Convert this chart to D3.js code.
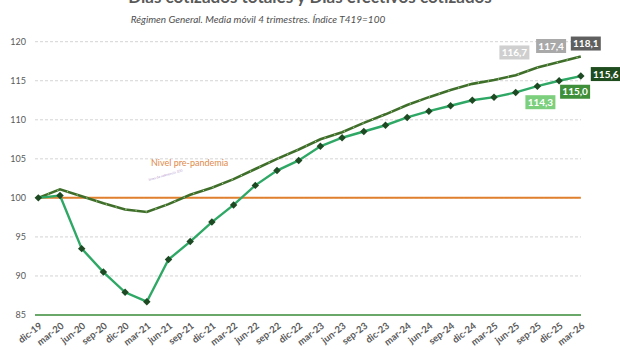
<!DOCTYPE html>
<html>
<head>
<meta charset="utf-8">
<script src="https://cdn.jsdelivr.net/npm/d3@7"></script>
<style>
  body { margin: 0; background: #fff; }
  svg { display: block; font-family: Lato, "Open Sans", sans-serif; }
  .tick text { fill: #595959; }
</style>
</head>
<body>
<svg id="chart"></svg>
<script>
// quarters (x categories)
const quarters = ['dic-19','mar-20','jun-20','sep-20','dic-20','mar-21','jun-21','sep-21','dic-21',
  'mar-22','jun-22','sep-22','dic-22','mar-23','jun-23','sep-23','dic-23','mar-24','jun-24',
  'sep-24','dic-24','mar-25','jun-25','sep-25','dic-25','mar-26'];

// Días cotizados totales (index T419=100)
const totales = [100, 101.1, 100.2, 99.3, 98.5, 98.2, 99.2, 100.4, 101.3, 102.4, 103.7, 105.0,
  106.2, 107.5, 108.4, 109.6, 110.7, 111.9, 112.9, 113.8, 114.6, 115.1, 115.7, 116.7, 117.4, 118.1];

// Días efectivos cotizados
const efectivos = [100, 100.3, 93.5, 90.5, 87.9, 86.7, 92.1, 94.4, 96.9, 99.1, 101.6, 103.5,
  104.8, 106.6, 107.7, 108.5, 109.3, 110.3, 111.1, 111.8, 112.5, 112.9, 113.5, 114.3, 115.0, 115.6];

const yTicks = [85, 90, 95, 100, 105, 110, 115, 120];
const preLevel = 100;

// value boxes at the end of the series
const totLabels = [
  { i: 23, v: '116,7', fill: '#cfcfcf', dx: -23, dy: -15 },
  { i: 24, v: '117,4', fill: '#a9a9a9', dx: -8, dy: -16 },
  { i: 25, v: '118,1', fill: '#5f5f5f', dx: 5, dy: -13 }
];
const efeLabels = [
  { i: 23, v: '114,3', fill: '#7ccf7c', dx: 3, dy: 16 },
  { i: 24, v: '115,0', fill: '#3f8f3a', dx: 16, dy: 11 },
  { i: 25, v: '115,6', fill: '#1f4d1f', dx: 25, dy: -2 }
];

const W = 620, H = 350;
const svg = d3.select('#chart').attr('width', W).attr('height', H);

const x = d3.scalePoint().domain(quarters).range([38.3, 580.8]);
const y = d3.scaleLinear().domain([85, 120]).range([315, 41.7]);

// titles (main title sits partly above the frame, as in the source image)
svg.append('text')
  .attr('x', 310).attr('y', 3)
  .attr('text-anchor', 'middle')
  .style('font-size', '17px').style('font-weight', 'bold').style('fill', '#595959')
  .text('Días cotizados totales y Días efectivos cotizados');

svg.append('text')
  .attr('x', 258).attr('y', 23)
  .attr('text-anchor', 'middle')
  .style('font-size', '10px').style('font-style', 'italic').style('fill', '#505050')
  .text('Régimen General. Media móvil 4 trimestres. Índice T419=100');

// gridlines
svg.append('g')
  .selectAll('line')
  .data(yTicks.filter(d => d !== 85))
  .join('line')
  .attr('x1', 35).attr('x2', 581)
  .attr('y1', d => y(d)).attr('y2', d => y(d))
  .attr('stroke', '#d4d4d4').attr('stroke-width', 1)
  .attr('stroke-dasharray', '3,2');

// y axis labels
const yAxis = d3.axisLeft(y).tickValues(yTicks).tickSize(0).tickPadding(0);
svg.append('g')
  .attr('transform', 'translate(26,0)')
  .call(yAxis)
  .call(g => g.select('.domain').remove())
  .call(g => g.selectAll('text').style('font-size', '9px').attr('font-family', 'Lato, sans-serif'));

// bottom axis line (85)
svg.append('line')
  .attr('x1', 35).attr('x2', 581)
  .attr('y1', y(85)).attr('y2', y(85))
  .attr('stroke', '#6aa86a').attr('stroke-width', 2);

// x axis labels
const xAxis = d3.axisBottom(x).tickSize(0).tickPadding(0);
svg.append('g')
  .attr('transform', `translate(0,${y(85)})`)
  .call(xAxis)
  .call(g => g.select('.domain').remove())
  .call(g => g.selectAll('text')
    .attr('font-family', 'Lato, sans-serif')
    .style('font-size', '9.5px').style('font-weight', 'bold')
    .attr('text-anchor', 'end')
    .attr('dy', '0')
    .attr('transform', 'translate(4,12) rotate(-38)'));

// pre-pandemic level
svg.append('line')
  .attr('x1', x(quarters[0])).attr('x2', x(quarters[quarters.length - 1]))
  .attr('y1', y(preLevel)).attr('y2', y(preLevel))
  .attr('stroke', '#e0802f').attr('stroke-width', 2);

svg.append('text')
  .attr('x', 151).attr('y', 166)
  .style('font-size', '9px').style('fill', '#e08a4a')
  .text('Nivel pre-pandemia');

svg.append('text')
  .attr('transform', 'translate(149,181) rotate(-16)')
  .style('font-size', '3.5px').style('fill', '#b59ad0')
  .text('línea de referencia 100');

// series lines
const line = d3.line()
  .x((d, i) => x(quarters[i]))
  .y(d => y(d));

svg.append('path')
  .datum(totales)
  .attr('d', line)
  .attr('fill', 'none')
  .attr('stroke', '#3f6e2b').attr('stroke-width', 2.6);

svg.append('path')
  .datum(totales)
  .attr('d', line)
  .attr('fill', 'none')
  .attr('stroke', '#b6e09a').attr('stroke-width', 1)
  .attr('stroke-dasharray', '1.2,9');

svg.append('path')
  .datum(efectivos)
  .attr('d', line)
  .attr('fill', 'none')
  .attr('stroke', '#2fa866').attr('stroke-width', 2.4);

svg.append('g')
  .selectAll('path')
  .data(efectivos)
  .join('path')
  .attr('transform', (d, i) => `translate(${x(quarters[i])},${y(d)}) rotate(45)`)
  .attr('d', d3.symbol(d3.symbolSquare, 28))
  .attr('fill', '#1d4a22');

// value boxes
function boxes(labels, series) {
  const g = svg.append('g')
    .selectAll('g')
    .data(labels)
    .join('g')
    .attr('transform', d => `translate(${x(quarters[d.i]) + d.dx},${y(series[d.i]) + d.dy})`);
  g.append('rect')
    .attr('x', -15).attr('y', -7)
    .attr('width', 30).attr('height', 14)
    .attr('fill', d => d.fill);
  g.append('text')
    .attr('text-anchor', 'middle').attr('dy', '0.35em')
    .style('font-size', '10px').style('font-weight', 'bold').style('fill', '#fff')
    .text(d => d.v);
}
boxes(totLabels, totales);
boxes(efeLabels, efectivos);
</script>
</body>
</html>
